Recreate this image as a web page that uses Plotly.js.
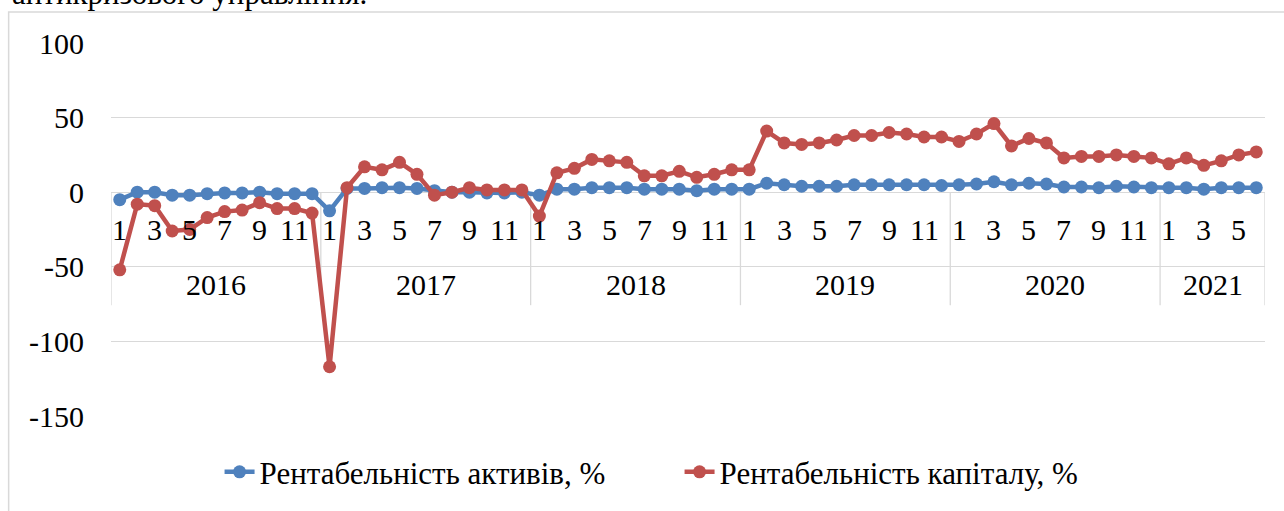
<!DOCTYPE html>
<html>
<head>
<meta charset="utf-8">
<script src="https://cdn.plot.ly/plotly-3.0.1.min.js"></script>
<style>
html,body{margin:0;padding:0;background:#fff;}
#chart{width:1284px;height:511px;}
</style>
</head>
<body>
<div id="chart"></div>
<script>
// ---- data ----
const years = ['2016', '2017', '2018', '2019', '2020', '2021'];
const monthsPerYear = [12, 12, 12, 12, 12, 6];
const monthLabels = ['1', '', '3', '', '5', '', '7', '', '9', '', '11', ''];

const roaName = 'Рентабельність активів, %';
const roa = [
  -5, 0, 0, -2, -2, -1, -0.5, -0.5, 0, -1, -1, -1,
  -12.5, 2.5, 2.5, 3, 3, 2.5, 1, 0, 0, -0.5, -0.5, 0,
  -2, 2, 2, 3, 3, 3, 2, 2, 2, 1, 2, 2,
  2, 6, 5, 4, 4, 4, 5, 5, 5, 5, 5, 4.5,
  5, 5.5, 7, 5, 6, 5.5, 3.5, 3.5, 3, 4, 3.5, 3,
  3, 3, 2, 3, 3, 3
];

const roeName = 'Рентабельність капіталу, %';
const roe = [
  -52, -8, -9, -26, -25, -17, -13, -12, -7, -11, -11, -14,
  -117, 3, 17, 15, 20, 12, -2, 0, 3, 1.5, 1.5, 1.5,
  -16, 13, 16, 22, 21, 20, 11, 11, 14, 10, 12, 15,
  15, 41, 33, 32, 33, 35, 38, 38, 40, 39, 37, 37,
  34, 39, 46, 31, 36, 33, 23, 24, 24, 25, 24, 23,
  19, 23, 18, 21, 25, 27
];

const yTicks = [-150, -100, -50, 0, 50, 100];

// ---- derived categories ----
const xIdx = [];
const monthText = [];
const yearStart = [];
let k = 0;
years.forEach((y, yi) => {
  yearStart.push(k);
  for (let m = 0; m < monthsPerYear[yi]; m++) {
    xIdx.push(k);
    monthText.push(monthLabels[m]);
    k++;
  }
});
const nCat = k;

const FONT = 'Liberation Serif';
const BLUE = '#4F81BD';
const RED = '#C0504D';
const GRID = '#d9d9d9';

const traces = [
  {
    x: xIdx, y: roa, name: roaName, type: 'scatter', mode: 'lines+markers',
    line: {color: BLUE, width: 4.5}, marker: {color: BLUE, size: 13}
  },
  {
    x: xIdx, y: roe, name: roeName, type: 'scatter', mode: 'lines+markers',
    line: {color: RED, width: 4.5}, marker: {color: RED, size: 13}
  }
];

const annotations = [];
monthText.forEach((t, i) => {
  if (t) annotations.push({
    x: xIdx[i], y: 0, xref: 'x', yref: 'y', text: t, showarrow: false,
    yanchor: 'middle', yshift: -37, font: {family: FONT, size: 30, color: '#000'}
  });
});
years.forEach((y, yi) => {
  const s = yearStart[yi], e = s + monthsPerYear[yi] - 1;
  annotations.push({
    x: (s + e) / 2, y: 0, xref: 'x', yref: 'y', text: y, showarrow: false,
    yanchor: 'middle', yshift: -92, font: {family: FONT, size: 30, color: '#000'}
  });
});
// clipped caption above chart
annotations.push({
  x: -0.0875, y: 1, xref: 'paper', yref: 'paper', xanchor: 'left', yanchor: 'middle',
  yshift: 50, text: 'антикризового управління.', showarrow: false,
  font: {family: FONT, size: 31, color: '#000'}
});

const shapes = [];
const bounds = yearStart.concat([nCat]);
bounds.forEach(b => {
  shapes.push({
    type: 'line', xref: 'x', yref: 'y', ysizemode: 'pixel', yanchor: 0,
    x0: b - 0.5, x1: b - 0.5, y0: 0, y1: -113, layer: 'below',
    line: {color: GRID, width: 1.3}
  });
});
// chart area border
shapes.push({
  type: 'rect', xref: 'paper', yref: 'paper',
  x0: -0.0887, x1: 1.05, y0: -0.3, y1: 1.083,
  line: {color: GRID, width: 1.5}, fillcolor: 'rgba(0,0,0,0)', layer: 'below'
});

const layout = {
  width: 1284, height: 511,
  margin: {l: 111, r: 19, t: 43, b: 95, pad: 0},
  paper_bgcolor: '#fff', plot_bgcolor: '#fff',
  font: {family: FONT, size: 30, color: '#000'},
  showlegend: true,
  legend: {
    orientation: 'h', xref: 'container', yref: 'container',
    x: 0.171, y: 0.076, xanchor: 'left', yanchor: 'middle',
    font: {family: FONT, size: 31, color: '#000'},
    entrywidth: 415, entrywidthmode: 'pixels', traceorder: 'normal'
  },
  xaxis: {
    range: [-0.5, nCat - 0.5], showgrid: false, zeroline: false,
    showticklabels: false, showline: false, ticks: '', fixedrange: true
  },
  yaxis: {
    range: [-150, 100], tickvals: yTicks, ticktext: yTicks.map(String),
    showgrid: true, gridcolor: GRID, gridwidth: 1.3, zeroline: false,
    showline: false, ticks: '', ticklabelstandoff: 26,
    tickfont: {family: FONT, size: 30, color: '#000'}, fixedrange: true
  },
  annotations: annotations,
  shapes: shapes
};

Plotly.newPlot('chart', traces, layout, {displayModeBar: false, staticPlot: true});
</script>
</body>
</html>
